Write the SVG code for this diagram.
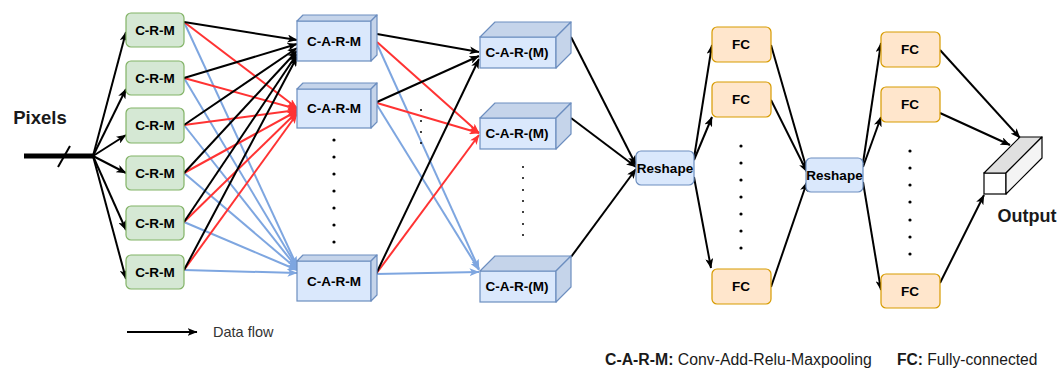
<svg xmlns="http://www.w3.org/2000/svg" width="1062" height="370" viewBox="0 0 1062 370">
<defs>
<marker id="ab" viewBox="0 0 10 8" markerWidth="10" markerHeight="8" refX="9.5" refY="4" orient="auto" markerUnits="userSpaceOnUse"><path d="M0,0 L10,4 L0,8 L2.5,4 z" fill="#000"/></marker>
<marker id="ar" viewBox="0 0 10 8" markerWidth="10" markerHeight="8" refX="9.5" refY="4" orient="auto" markerUnits="userSpaceOnUse"><path d="M0,0 L10,4 L0,8 L2.5,4 z" fill="#ff3333"/></marker>
<marker id="au" viewBox="0 0 10 8" markerWidth="10" markerHeight="8" refX="9.5" refY="4" orient="auto" markerUnits="userSpaceOnUse"><path d="M0,0 L10,4 L0,8 L2.5,4 z" fill="#7ea6e0"/></marker>
</defs>
<style>
text{font-family:"Liberation Sans",Arial,sans-serif;}
.lbl{font-size:13.5px;font-weight:bold;fill:#000;text-anchor:middle;}
.crm{fill:#d5e8d4;stroke:#82b366;stroke-width:1.2;}
.blue{fill:#dae8fc;stroke:#6c8ebf;stroke-width:1.2;}
.bluedk{fill:#c5d4ea;stroke:#6c8ebf;stroke-width:1.2;stroke-linejoin:round;}
.fc{fill:#ffe6cc;stroke:#d79b00;stroke-width:1.2;}
.k{stroke:#000;stroke-width:2;fill:none;marker-end:url(#ab);}
.r{stroke:#ff3333;stroke-width:2;fill:none;marker-end:url(#ar);}
.u{stroke:#7ea6e0;stroke-width:2;fill:none;marker-end:url(#au);}
.dot{fill:#000;}
</style>
<rect width="1062" height="370" fill="#fff"/>

<g id="connectors">
<line class="k" x1="93" y1="156" x2="126" y2="32"/>
<line class="k" x1="93" y1="156" x2="126" y2="89"/>
<line class="k" x1="93" y1="156" x2="126" y2="135"/>
<line class="k" x1="93" y1="156" x2="126" y2="173"/>
<line class="k" x1="93" y1="156" x2="126" y2="230"/>
<line class="k" x1="93" y1="156" x2="126" y2="279"/>
<line class="u" x1="184" y1="22" x2="297" y2="266"/>
<line class="u" x1="184" y1="78" x2="297" y2="267"/>
<line class="u" x1="184" y1="125" x2="297" y2="268"/>
<line class="u" x1="184" y1="173" x2="297" y2="269"/>
<line class="u" x1="184" y1="222" x2="297" y2="270"/>
<line class="u" x1="184" y1="270" x2="297" y2="273"/>
<line class="r" x1="184" y1="22" x2="297" y2="108"/>
<line class="r" x1="184" y1="78" x2="297" y2="109"/>
<line class="r" x1="184" y1="125" x2="297" y2="110"/>
<line class="r" x1="184" y1="173" x2="297" y2="111"/>
<line class="r" x1="184" y1="222" x2="297" y2="112"/>
<line class="r" x1="184" y1="270" x2="297" y2="114"/>
<line class="k" x1="184" y1="22" x2="297" y2="40"/>
<line class="k" x1="184" y1="78" x2="297" y2="44"/>
<line class="k" x1="184" y1="125" x2="297" y2="48"/>
<line class="k" x1="184" y1="173" x2="297" y2="51"/>
<line class="k" x1="184" y1="222" x2="297" y2="54"/>
<line class="k" x1="184" y1="270" x2="297" y2="57"/>
<line class="u" x1="377" y1="44" x2="479" y2="269"/>
<line class="u" x1="377" y1="105" x2="479" y2="270"/>
<line class="u" x1="376" y1="274" x2="479" y2="272"/>
<line class="r" x1="377" y1="42" x2="479" y2="133"/>
<line class="r" x1="377" y1="103" x2="479" y2="133"/>
<line class="r" x1="376" y1="274" x2="479" y2="135"/>
<line class="k" x1="377" y1="34" x2="479" y2="52"/>
<line class="k" x1="377" y1="102" x2="479" y2="56"/>
<line class="k" x1="376" y1="274" x2="479" y2="59"/>
<line class="k" x1="571" y1="37" x2="636" y2="165"/>
<line class="k" x1="571" y1="118" x2="636" y2="167"/>
<line class="k" x1="571" y1="257" x2="636" y2="169"/>
<line class="k" x1="694" y1="158" x2="712" y2="45"/>
<line class="k" x1="694" y1="160" x2="712" y2="117"/>
<line class="k" x1="694" y1="177" x2="711" y2="268"/>
<line class="k" x1="771" y1="45" x2="807" y2="170"/>
<line class="k" x1="771" y1="100" x2="807" y2="172"/>
<line class="k" x1="771" y1="287" x2="807" y2="182"/>
<line class="k" x1="863" y1="163" x2="881" y2="43"/>
<line class="k" x1="863" y1="167" x2="881" y2="117"/>
<line class="k" x1="863" y1="182" x2="881" y2="290"/>
<line class="k" x1="940" y1="50" x2="1020" y2="138"/>
<line class="k" x1="940" y1="113" x2="1010" y2="145"/>
<line class="k" x1="940" y1="283" x2="984" y2="195"/>
<line class="k" x1="127" y1="332" x2="197" y2="332"/>
</g>

<g id="pixels">
<line x1="24" y1="156" x2="93" y2="156" stroke="#000" stroke-width="5"/>
<line x1="58" y1="167" x2="70" y2="146" stroke="#000" stroke-width="2"/>
<text x="40" y="124" font-size="18.5" font-weight="bold" text-anchor="middle" fill="#1a1a1a">Pixels</text>
</g>

<g id="crm1"><rect class="crm" x="126" y="13" width="58" height="34" rx="5"/><text class="lbl" x="155" y="35">C-R-M</text></g>
<g id="crm2"><rect class="crm" x="126" y="61" width="58" height="34" rx="5"/><text class="lbl" x="155" y="83">C-R-M</text></g>
<g id="crm3"><rect class="crm" x="126" y="108" width="58" height="35" rx="5"/><text class="lbl" x="155" y="130">C-R-M</text></g>
<g id="crm4"><rect class="crm" x="126" y="156" width="58" height="34" rx="5"/><text class="lbl" x="155" y="178">C-R-M</text></g>
<g id="crm5"><rect class="crm" x="126" y="206" width="58" height="34" rx="5"/><text class="lbl" x="155" y="228">C-R-M</text></g>
<g id="crm6"><rect class="crm" x="126" y="255" width="58" height="34" rx="5"/><text class="lbl" x="155" y="277">C-R-M</text></g>

<g id="carm1">
<rect class="blue" x="297" y="21" width="74" height="40"/>
<polygon class="bluedk" points="297,21 303,15 377,15 371,21"/>
<polygon class="bluedk" points="371,21 377,15 377,55 371,61"/>
<text class="lbl" x="334" y="46">C-A-R-M</text>
</g>
<g id="carm2">
<rect class="blue" x="297" y="89" width="74" height="39"/>
<polygon class="bluedk" points="297,89 303,83 377,83 371,89"/>
<polygon class="bluedk" points="371,89 377,83 377,122 371,128"/>
<text class="lbl" x="334" y="113">C-A-R-M</text>
</g>
<g id="carm3">
<rect class="blue" x="297" y="261" width="74" height="40"/>
<polygon class="bluedk" points="297,261 303,255 377,255 371,261"/>
<polygon class="bluedk" points="371,261 377,255 377,295 371,301"/>
<text class="lbl" x="334" y="286">C-A-R-M</text>
</g>

<g id="carm_dots">
<circle class="dot" cx="334" cy="140" r="1.6"/><circle class="dot" cx="334" cy="157" r="1.6"/><circle class="dot" cx="334" cy="174" r="1.6"/><circle class="dot" cx="334" cy="191" r="1.6"/><circle class="dot" cx="334" cy="208" r="1.6"/><circle class="dot" cx="334" cy="225" r="1.6"/><circle class="dot" cx="334" cy="242" r="1.6"/>
</g>
<g id="mid_dots">
<circle class="dot" cx="421" cy="110" r="1"/><circle class="dot" cx="421" cy="121" r="1"/><circle class="dot" cx="421" cy="132" r="1"/><circle class="dot" cx="421" cy="143" r="1"/>
</g>

<g id="carmm1">
<rect class="blue" x="480" y="37" width="76" height="31"/>
<polygon class="bluedk" points="480,37 495,22 571,22 556,37"/>
<polygon class="bluedk" points="556,37 571,22 571,53 556,68"/>
<text class="lbl" x="517" y="57">C-A-R-(M)</text>
</g>
<g id="carmm2">
<rect class="blue" x="480" y="118" width="76" height="31"/>
<polygon class="bluedk" points="480,118 495,103 571,103 556,118"/>
<polygon class="bluedk" points="556,118 571,103 571,134 556,149"/>
<text class="lbl" x="517" y="138">C-A-R-(M)</text>
</g>
<g id="carmm3">
<rect class="blue" x="480" y="271" width="76" height="31"/>
<polygon class="bluedk" points="480,271 495,256 571,256 556,271"/>
<polygon class="bluedk" points="556,271 571,256 571,287 556,302"/>
<text class="lbl" x="517" y="291">C-A-R-(M)</text>
</g>
<g id="carmm_dots">
<circle class="dot" cx="523" cy="167" r="1"/><circle class="dot" cx="523" cy="178" r="1"/><circle class="dot" cx="523" cy="190" r="1"/><circle class="dot" cx="523" cy="201" r="1"/><circle class="dot" cx="523" cy="212" r="1"/><circle class="dot" cx="523" cy="224" r="1"/><circle class="dot" cx="523" cy="235" r="1"/>
</g>

<g id="reshape1"><rect class="blue" x="636" y="151" width="58" height="34" rx="5"/><text class="lbl" x="665" y="173">Reshape</text></g>

<g id="fc1a"><rect class="fc" x="712" y="27" width="59" height="35" rx="5"/><text class="lbl" x="741" y="49">FC</text></g>
<g id="fc1b"><rect class="fc" x="712" y="82" width="59" height="35" rx="5"/><text class="lbl" x="741" y="104">FC</text></g>
<g id="fc1c"><rect class="fc" x="712" y="269" width="59" height="35" rx="5"/><text class="lbl" x="741" y="291">FC</text></g>
<g id="fc1_dots">
<circle class="dot" cx="741" cy="146" r="1.6"/><circle class="dot" cx="741" cy="163" r="1.6"/><circle class="dot" cx="741" cy="180" r="1.6"/><circle class="dot" cx="741" cy="197" r="1.6"/><circle class="dot" cx="741" cy="214" r="1.6"/><circle class="dot" cx="741" cy="231" r="1.6"/><circle class="dot" cx="741" cy="248" r="1.6"/>
</g>

<g id="reshape2"><rect class="blue" x="806" y="158" width="57" height="34" rx="5"/><text class="lbl" x="834.5" y="180">Reshape</text></g>

<g id="fc2a"><rect class="fc" x="881" y="32" width="59" height="35" rx="5"/><text class="lbl" x="910" y="54">FC</text></g>
<g id="fc2b"><rect class="fc" x="881" y="87" width="59" height="35" rx="5"/><text class="lbl" x="910" y="109">FC</text></g>
<g id="fc2c"><rect class="fc" x="881" y="274" width="59" height="34" rx="5"/><text class="lbl" x="910" y="296">FC</text></g>
<g id="fc2_dots">
<circle class="dot" cx="910" cy="151" r="1.6"/><circle class="dot" cx="910" cy="168" r="1.6"/><circle class="dot" cx="910" cy="185" r="1.6"/><circle class="dot" cx="910" cy="202" r="1.6"/><circle class="dot" cx="910" cy="220" r="1.6"/><circle class="dot" cx="910" cy="237" r="1.6"/><circle class="dot" cx="910" cy="254" r="1.6"/>
</g>

<g id="output">
<rect x="984" y="173" width="22" height="21" fill="#fff" stroke="#000" stroke-width="1.2"/>
<polygon points="984,173 1020,137 1042,137 1006,173" fill="#e0e0e0" stroke="#000" stroke-width="1.2" stroke-linejoin="round"/>
<polygon points="1006,173 1042,137 1042,158 1006,194" fill="#f4f4f4" stroke="#000" stroke-width="1.2" stroke-linejoin="round"/>
<text x="1027" y="222" font-size="18" font-weight="bold" text-anchor="middle" fill="#1a1a1a">Output</text>
</g>

<g id="legend">
<text x="213" y="337" font-size="14.5" fill="#333">Data flow</text>
<text x="605" y="365" font-size="15.8" fill="#1a1a1a"><tspan font-weight="bold">C-A-R-M:</tspan> Conv-Add-Relu-Maxpooling</text>
<text x="897" y="365" font-size="15.6" fill="#1a1a1a"><tspan font-weight="bold">FC:</tspan> Fully-connected</text>
</g>
</svg>
